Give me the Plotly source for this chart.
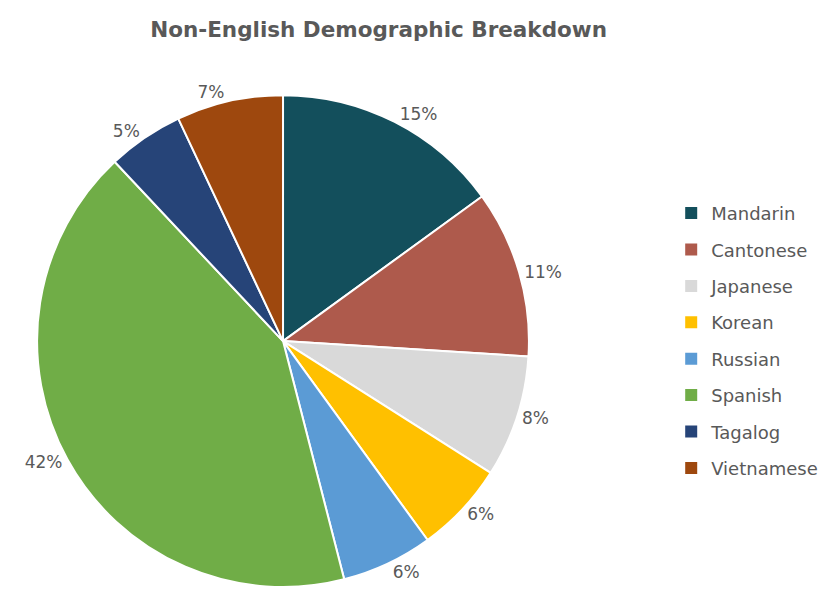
import plotly.graph_objects as go

languages = ["Mandarin", "Cantonese", "Japanese", "Korean", "Russian", "Spanish", "Tagalog", "Vietnamese"]
shares = [15, 11, 8, 6, 6, 42, 5, 7]
colors = ["#134F5C", "#AE5A4C", "#D9D9D9", "#FFC000", "#5B9BD5", "#70AD47", "#264478", "#9E480E"]

font_family = "'DejaVu Sans', sans-serif"
text_grey = "#595959"

fig = go.Figure()

fig.add_trace(go.Pie(
    labels=languages,
    values=shares,
    sort=False,
    direction="clockwise",
    rotation=0,
    marker=dict(colors=colors, line=dict(color="white", width=2)),
    textposition="outside",
    texttemplate="%{percent:.0%}",
    textfont=dict(size=17, color=text_grey, family=font_family),
    showlegend=False,
    domain=dict(x=[0.035, 0.6285], y=[0.0366, 0.855]),
))

# legend entries, one per language, so the rows can be spaced out
for lang, col in zip(languages, colors):
    fig.add_trace(go.Scatter(
        x=[None], y=[None], mode="markers", name=lang, legendgroup=lang,
        marker=dict(symbol="square", size=10, color=col),
    ))

fig.update_layout(
    width=829, height=601,
    paper_bgcolor="white", plot_bgcolor="white",
    margin=dict(l=0, r=0, t=0, b=0),
    title=dict(
        text="<b>Non-English Demographic Breakdown</b>",
        x=0.447, xanchor="center", y=0.965, yanchor="middle",
        font=dict(size=21.5, color=text_grey, family=font_family),
    ),
    legend=dict(
        x=0.80, xanchor="left", y=0.689, yanchor="top",
        font=dict(size=18, color=text_grey, family=font_family),
        tracegroupgap=10, itemsizing="constant", itemwidth=30,
    ),
    xaxis=dict(visible=False), yaxis=dict(visible=False),
)

fig.write_html("out.html")
